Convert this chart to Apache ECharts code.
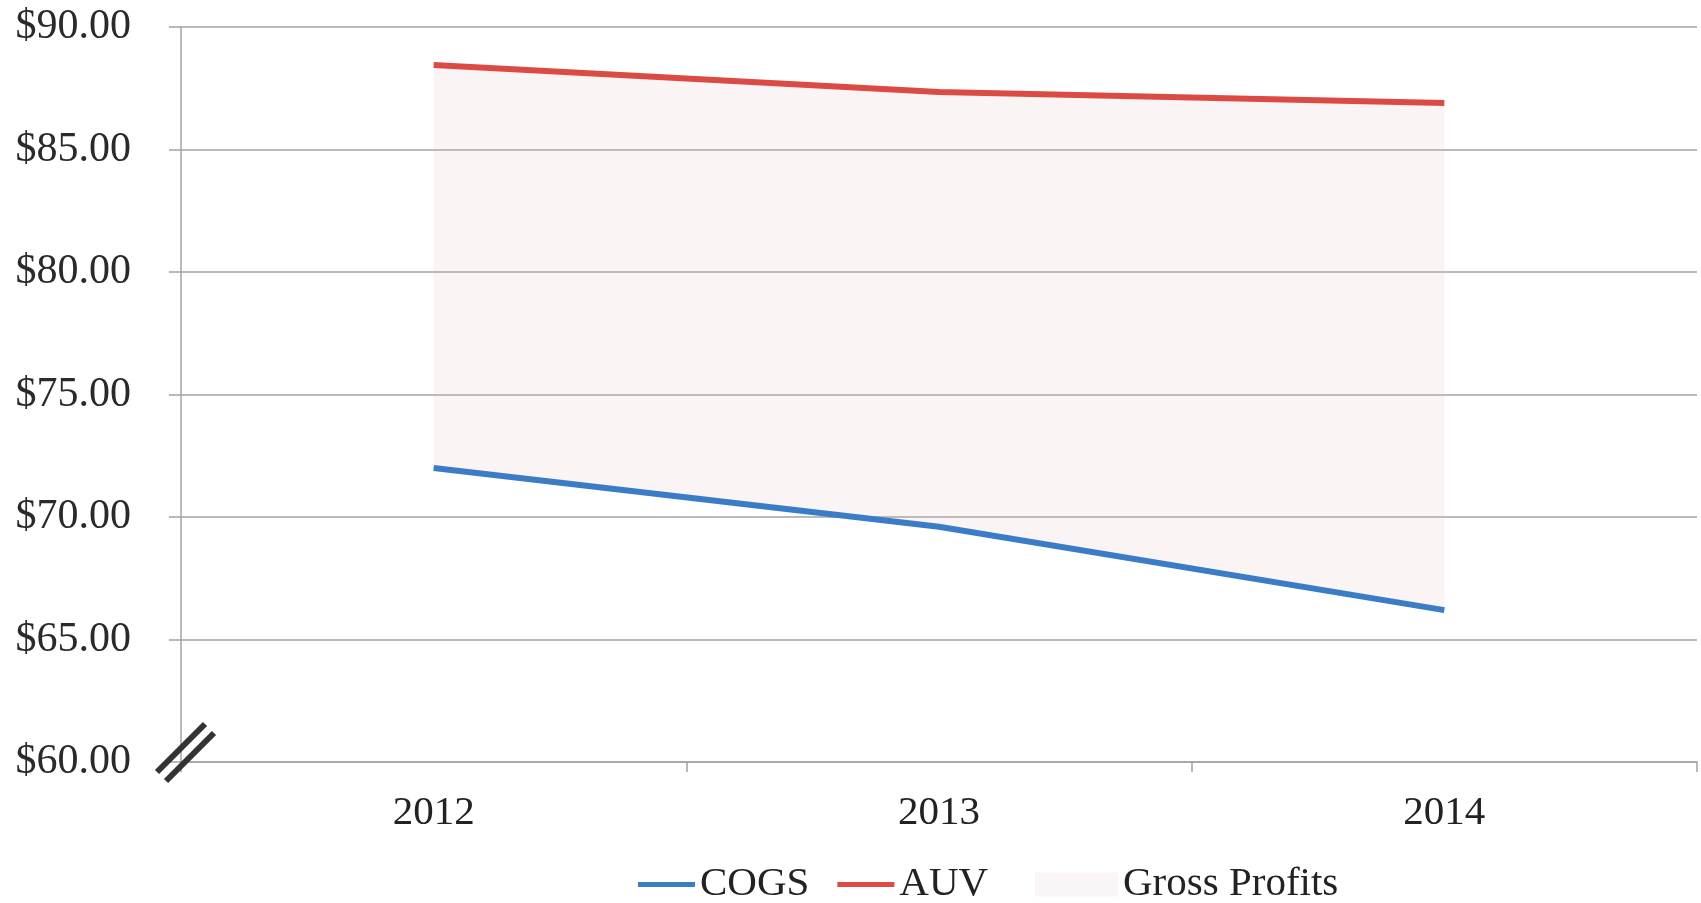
<!DOCTYPE html>
<html>
<head>
<meta charset="utf-8">
<style>
  html, body { margin: 0; padding: 0; background: #fff; }
  #chart { width: 1701px; height: 903px; }
</style>
<script src="https://cdn.jsdelivr.net/npm/echarts@6/dist/echarts.min.js"></script>
</head>
<body>
<div id="chart"></div>
<script>
// Unit economics, 2012-2014
const years = ['2012', '2013', '2014'];
const cogs = [72.0, 69.6, 66.2];   // cost of goods sold per unit
const auv = [88.45, 87.35, 86.9];  // average unit value
const yTicks = { min: 60, max: 90, step: 5 };

// gross profit band = AUV minus COGS, stacked on top of COGS
const grossProfits = auv.map((v, i) => +(v - cogs[i]).toFixed(2));

const FONT = '"Liberation Serif", "Times New Roman", serif';
const GRID = '#a3a3a3';
// legend line swatch: a 5px bar across the middle of a 57x24 box
const LINE_ICON = 'path://M0,0 L0.01,0 L0.01,0.01 Z M0,9.5 L57,9.5 L57,14.5 L0,14.5 Z M56.99,23.99 L57,24 L56.99,24 Z';
const legendText = { color: '#222', fontFamily: FONT, fontSize: 41 };

const chart = echarts.init(document.getElementById('chart'), null, { renderer: 'canvas' });

chart.setOption({
  animation: false,
  backgroundColor: '#ffffff',
  grid: { left: 181, right: 4, top: 27, bottom: 141, containLabel: false },
  xAxis: {
    type: 'category',
    data: years,
    boundaryGap: true,
    axisLine: { show: true, lineStyle: { color: GRID, width: 1.5 } },
    axisTick: { show: true, length: 10, lineStyle: { color: GRID, width: 1.5 } },
    axisLabel: { color: '#222', fontFamily: FONT, fontSize: 41, margin: 31 },
    splitLine: { show: false }
  },
  yAxis: {
    type: 'value',
    min: yTicks.min,
    max: yTicks.max,
    interval: yTicks.step,
    axisLine: { show: true, lineStyle: { color: GRID, width: 1.5 } },
    axisTick: { show: true, length: 12, lineStyle: { color: GRID, width: 1.5 } },
    axisLabel: {
      color: '#2a2a2a', fontFamily: FONT, fontSize: 42, margin: 50,
      formatter: v => '$' + v.toFixed(2)
    },
    splitLine: { show: true, lineStyle: { color: GRID, width: 1.5 } }
  },
  legend: [
    {
      left: 633,
      top: 859,
      itemWidth: 57,
      itemHeight: 24,
      itemGap: 28,
      symbolKeepAspect: false,
      textStyle: legendText,
      data: [
        { name: 'COGS', icon: LINE_ICON },
        { name: 'AUV', icon: LINE_ICON }
      ]
    },
    {
      left: 1030,
      top: 859,
      itemWidth: 83,
      itemHeight: 24,
      symbolKeepAspect: false,
      textStyle: legendText,
      data: [{ name: 'Gross Profits', icon: 'rect' }]
    }
  ],
  series: [
    {
      name: 'COGS',
      type: 'line',
      stack: 'unit',
      data: cogs,
      symbol: 'none',
      z: 4,
      color: '#3b7cc6',
      itemStyle: { color: '#3b7cc6' },
      lineStyle: { color: '#3b7cc6', width: 6 }
    },
    {
      name: 'Gross Profits',
      type: 'line',
      stack: 'unit',
      data: grossProfits,
      symbol: 'none',
      z: 2,
      color: '#faf5f6',
      itemStyle: { color: '#faf5f6' },
      lineStyle: { width: 0, opacity: 0 },
      areaStyle: { color: 'rgba(222,180,188,0.22)', origin: 'auto' }
    },
    {
      name: 'AUV',
      type: 'line',
      data: auv,
      symbol: 'none',
      z: 4,
      color: '#dc4a44',
      itemStyle: { color: '#dc4a44' },
      lineStyle: { color: '#dc4a44', width: 6 }
    }
  ]
});

// axis break mark at the value-axis origin
const rect = chart.getModel().getComponent('grid', 0).coordinateSystem.getRect();
const ox = rect.x;
const oy = rect.y + rect.height;
const half = 24;
const breakLine = (cx, cy) => ({
  type: 'line',
  shape: { x1: cx - half, y1: cy + half, x2: cx + half, y2: cy - half },
  style: { stroke: '#333', lineWidth: 6 },
  z: 100
});
chart.setOption({
  graphic: [
    breakLine(ox, oy - 14),
    breakLine(ox + 9, oy - 5)
  ]
});
</script>
</body>
</html>
